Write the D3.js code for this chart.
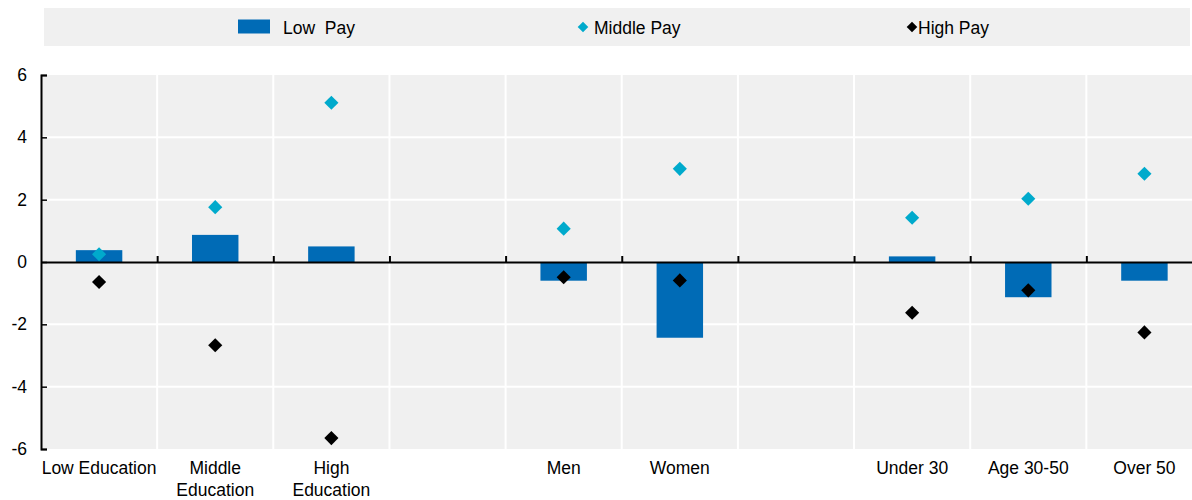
<!DOCTYPE html>
<html><head><meta charset="utf-8">
<script src="https://cdn.jsdelivr.net/npm/d3@7"></script>
<style>
body{margin:0;background:#fff;}
svg text{font-family:"Liberation Sans",Arial,sans-serif;fill:#000;}
</style>
</head><body><svg id="c" width="1192" height="500"></svg>
<script>
// ---- data ----
const categories = ["Low Education","Middle\nEducation","High\nEducation","","Men","Women","","Under 30","Age 30-50","Over 50"];
const lowPay    = [0.38, 0.87, 0.50, null, -0.60, -2.43, null, 0.18, -1.13, -0.60];
const middlePay = [0.25, 1.76, 5.11, null,  1.07,  2.99, null, 1.42,  2.03,  2.83];
const highPay   = [-0.64, -2.67, -5.65, null, -0.49, -0.59, null, -1.63, -0.91, -2.26];
const yTicks = [-6, -4, -2, 0, 2, 4, 6];
const seriesNames = ["Low  Pay", "Middle Pay", "High Pay"];

// ---- styles ----
const C_LOW = "#006bb6", C_MID = "#00aacc", C_HIGH = "#000000", C_BG = "#f0f0f0";
const FS = 17.5;

(function () {
const svg = d3.select("#c");
const pLeft = 41, pRight = 1202.5, pTop = 75, pBottom = 449;

const x = d3.scaleBand().domain(d3.range(categories.length)).range([pLeft, pRight]).paddingInner(0).paddingOuter(0);
const xEdge = d3.scaleLinear().domain([0, categories.length]).range([pLeft, pRight]);
const y = d3.scaleLinear().domain([-6, 6]).range([pBottom, pTop]);

// legend
svg.append("rect").attr("x", 44).attr("y", 8).attr("width", 1146).attr("height", 38).attr("fill", C_BG);
const lg = svg.append("g");
lg.append("rect").attr("x", 238).attr("y", 19.5).attr("width", 32).attr("height", 14).attr("fill", C_LOW);
lg.append("text").attr("x", 283).attr("y", 33.5).attr("font-size", FS).style("white-space", "pre").text(seriesNames[0]);
const legSym = d3.symbol().type(d3.symbolSquare).size(56);
lg.append("path").attr("d", legSym()).attr("transform", "translate(583,27) rotate(45)").attr("fill", C_MID);
lg.append("text").attr("x", 594).attr("y", 33.5).attr("font-size", FS).text(seriesNames[1]);
lg.append("path").attr("d", legSym()).attr("transform", "translate(912,27) rotate(45)").attr("fill", C_HIGH);
lg.append("text").attr("x", 918).attr("y", 33.5).attr("font-size", FS).text(seriesNames[2]);

// plot background
svg.append("rect").attr("x", pLeft).attr("y", pTop).attr("width", pRight - pLeft).attr("height", pBottom - pTop).attr("fill", C_BG);

// horizontal gridlines
svg.append("g").selectAll("line").data(yTicks.filter(d => d !== 0 && Math.abs(d) !== 6)).join("line")
  .attr("x1", pLeft).attr("x2", pRight).attr("y1", d => y(d)).attr("y2", d => y(d))
  .attr("stroke", "#fff").attr("stroke-width", 2);
// vertical gridlines
svg.append("g").selectAll("line").data(d3.range(1, categories.length)).join("line")
  .attr("x1", d => xEdge(d)).attr("x2", d => xEdge(d)).attr("y1", pTop).attr("y2", pBottom)
  .attr("stroke", "#fff").attr("stroke-width", 2);

// bars
svg.append("g").selectAll("rect").data(lowPay.map((v, i) => ({v, i})).filter(d => d.v !== null)).join("rect")
  .attr("x", d => x(d.i) + x.bandwidth() * 0.3)
  .attr("width", x.bandwidth() * 0.4)
  .attr("y", d => y(Math.max(0, d.v)))
  .attr("height", d => Math.abs(y(d.v) - y(0)))
  .attr("fill", C_LOW);

// zero axis with ticks at category boundaries
const zeroAxis = d3.axisBottom(xEdge).tickValues(d3.range(1, categories.length)).tickFormat("").tickSizeInner(-6).tickSizeOuter(0);
const za = svg.append("g").attr("transform", `translate(0,${y(0)})`).call(zeroAxis);
za.select(".domain").attr("stroke", "#000").attr("stroke-width", 2);
za.selectAll(".tick line").attr("stroke", "#000").attr("stroke-width", 2);

// y axis
const yAxis = d3.axisLeft(y).tickValues(yTicks).tickFormat(d => String(d)).tickSizeInner(-6).tickSizeOuter(-6).tickPadding(14);
const ya = svg.append("g").attr("transform", `translate(${pLeft},0)`).call(yAxis);
ya.select(".domain").attr("stroke", "#000").attr("stroke-width", 2);
ya.selectAll(".tick line").attr("stroke", "#000").attr("stroke-width", 1.5);
ya.selectAll(".tick text").attr("font-size", FS).attr("font-family", "Liberation Sans, Arial, sans-serif").attr("fill", "#000");

// diamonds
const sym = d3.symbol().type(d3.symbolSquare).size(100);
function drawPoints(arr, color) {
  svg.append("g").selectAll("path").data(arr.map((v, i) => ({v, i})).filter(d => d.v !== null)).join("path")
    .attr("d", sym())
    .attr("transform", d => `translate(${x(d.i) + x.bandwidth() / 2},${y(d.v)}) rotate(45)`)
    .attr("fill", color);
}
drawPoints(middlePay, C_MID);
drawPoints(highPay, C_HIGH);

// x labels
const xl = svg.append("g");
categories.forEach((c, i) => {
  if (!c) return;
  const t = xl.append("text").attr("text-anchor", "middle").attr("font-size", FS)
    .attr("x", x(i) + x.bandwidth() / 2).attr("y", 474);
  c.split("\n").forEach((line, k) => {
    t.append("tspan").attr("x", x(i) + x.bandwidth() / 2).attr("dy", k === 0 ? 0 : 21.5).text(line);
  });
});
})();
</script>
</body></html>
